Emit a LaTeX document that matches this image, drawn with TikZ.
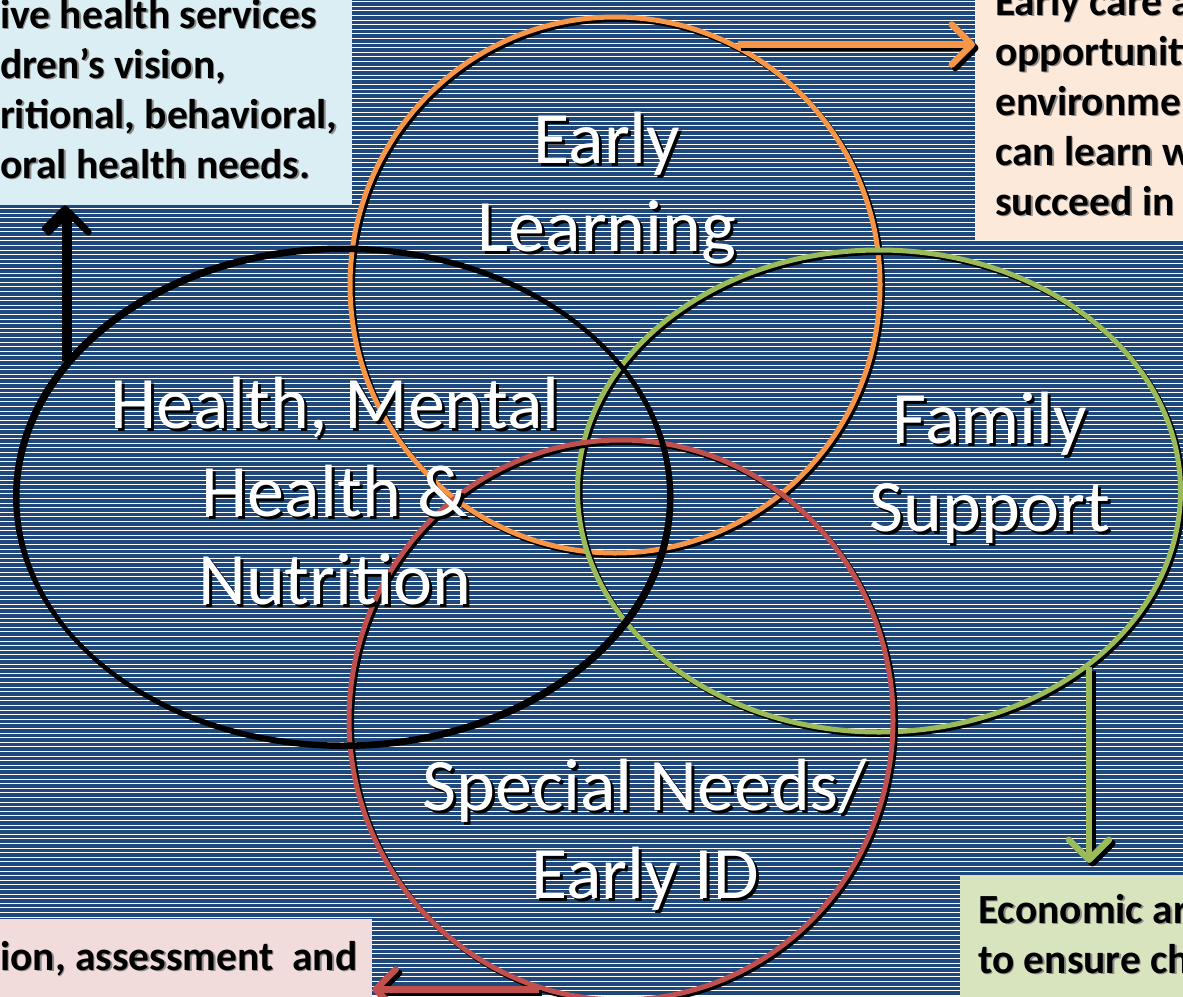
\documentclass[tikz,border=0pt]{standalone}
\usepackage{fontspec}
\setmainfont{Carlito}
\usetikzlibrary{arrows.meta}
\usetikzlibrary{shapes.geometric}
\usetikzlibrary{shadows}
\usetikzlibrary{positioning}

\definecolor{bgblue}{RGB}{31,73,125}
\definecolor{ringorange}{RGB}{247,150,70}
\definecolor{ringgreen}{RGB}{155,187,89}
\definecolor{ringred}{RGB}{192,80,77}
\definecolor{boxblue}{RGB}{218,238,243}
\definecolor{boxpeach}{RGB}{253,233,217}
\definecolor{boxgreen}{RGB}{215,228,189}
\definecolor{boxpink}{RGB}{242,220,219}

\tikzset{
	stripe/.style={draw=white, line width=0.8pt},
	ring/.style={
		draw,
		ellipse,
		inner sep=0pt,
		line width=5pt,
		drop shadow={shadow xshift=2.5pt, shadow yshift=-2.5pt, opacity=1, fill=none, draw=black},
	},
	lbl/.style={
		text=white,
		align=center,
		font=\fontsize{74}{88}\selectfont,
	},
	lblshade/.style={lbl, text=black, xshift=3pt, yshift=-3pt},
	notebox/.style={
		rectangle,
		anchor=north west,
		inner sep=0pt,
	},
	notetext/.style={
		anchor=north west,
		align=left,
		inner sep=0pt,
		font=\bfseries\fontsize{41.5}{50}\selectfont,
	},
	noteshade/.style={notetext, text=black!45, xshift=1.5pt, yshift=-1.5pt},
	link/.style={
		line width=6.5pt,
		-{Straight Barb[length=20pt,width=40pt,round]},
	},
	linkshade/.style={link, draw=black, transform canvas={shift={(3.5pt,-3.5pt)}}},
}

\begin{document}
\begin{tikzpicture}[x=1pt,y=-1pt]
	\useasboundingbox (0,0) rectangle (1183,996);
	\clip (0,0) rectangle (1183,996);

	% striped background
	\fill[bgblue] (0,0) rectangle (1183,996);
	\foreach \y in {1.5,6.1,...,996}
		\draw[stripe] (0,\y) -- (1183,\y);

	% note boxes
	\node[notebox, fill=boxblue, minimum width=352, minimum height=205] (health box) at (0,0) {};
	\node[notebox, fill=boxpeach, minimum width=220, minimum height=240] (care box) at (975,0) {};
	\node[notebox, fill=boxgreen, minimum width=240, minimum height=130] (econ box) at (960,875) {};
	\node[notebox, fill=boxpink, minimum width=372, minimum height=80] (screen box) at (0,919) {};

	\node[noteshade] (health note shade) at (0,-1) {ive health services\\dren’s vision,\\ritional, behavioral,\\oral health needs.};
	\node[notetext] (health note) at (0,-1) {ive health services\\dren’s vision,\\ritional, behavioral,\\oral health needs.};
	\node[noteshade] (care note shade) at (995,-14) {Early care a\\opportuniti\\environmen\\can learn w\\succeed in};
	\node[notetext] (care note) at (995,-14) {Early care a\\opportuniti\\environmen\\can learn w\\succeed in};
	\node[noteshade] (econ note shade) at (978,894) {Economic ar\\to ensure ch};
	\node[notetext] (econ note) at (978,894) {Economic ar\\to ensure ch};
	\node[noteshade] (screen note shade) at (0,941) {ion, assessment~ and};
	\node[notetext] (screen note) at (0,941) {ion, assessment~ and};

	% the four rings
	\node[ring, draw=ringorange, minimum width=530, minimum height=536] (learn) at (615,285) {};
	\node[ring, draw=ringgreen, minimum width=603, minimum height=482] (family) at (879,491) {};
	\node[ring, draw=ringred, minimum width=544, minimum height=560] (special) at (621,720) {};
	\node[ring, draw=black, line width=4pt, minimum width=654, minimum height=497] (health) at (342,496) {};

	% ring labels
	\node[lblshade] (learn shade) at (607,188) {Early\\Learning};
	\node[lbl] (learn text) at (607,188) {Early\\Learning};
	\node[lblshade] (health shade) at (335,491) {Health, Mental\\Health \&\\Nutrition};
	\node[lbl] (health text) at (335,491) {Health, Mental\\Health \&\\Nutrition};
	\node[lblshade] (family shade) at (990,468) {Family\\Support};
	\node[lbl] (family text) at (990,468) {Family\\Support};
	\node[lblshade] (special shade) at (645,835) {Special Needs/\\Early ID};
	\node[lbl] (special text) at (645,835) {Special Needs/\\Early ID};

	% arrows out to the notes
	\draw[linkshade] (health.154.7) -- (health.154.7 |- health box.south);
	\draw[link, black] (health.154.7) -- (health.154.7 |- health box.south);
	\draw[linkshade] (learn.63.4) -- (learn.63.4 -| care box.west);
	\draw[link, ringorange] (learn.63.4) -- (learn.63.4 -| care box.west);
	\draw[linkshade] (family.-40.3) -- ([yshift=12pt]family.-40.3 |- econ box.north);
	\draw[link, ringgreen] (family.-40.3) -- ([yshift=12pt]family.-40.3 |- econ box.north);
	\draw[linkshade] (special.253.6) -- (special.253.6 -| screen box.east);
	\draw[link, ringred] (special.253.6) -- (special.253.6 -| screen box.east);
\end{tikzpicture}
\end{document}
